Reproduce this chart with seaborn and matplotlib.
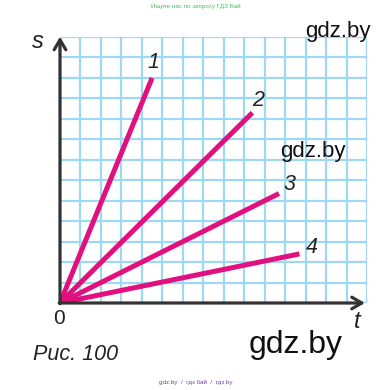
import matplotlib
matplotlib.use("Agg")
import matplotlib.pyplot as plt
import seaborn as sns
import pandas as pd

sns.set_theme(style="white")
plt.rcParams['font.family'] = ['Liberation Sans', 'DejaVu Sans']

# Data (grid units)
line_names = ["1", "2", "3", "4"]
t_end = [4.5, 9.4, 10.7, 11.7]
s_end = [11.0, 9.3, 5.35, 2.4]
x_cells = 15
y_cells = 13

rows = []
for n, t, s in zip(line_names, t_end, s_end):
    rows.append({"line": n, "t": 0.0, "s": 0.0})
    rows.append({"line": n, "t": t, "s": s})
df = pd.DataFrame(rows)

magenta = "#E2107F"
grid_c = "#9DDAF2"
axis_c = "#333333"

fig = plt.figure(figsize=(3.92, 3.90), dpi=100)
ax = fig.add_axes([60/392, (390-303)/390, 307/392, 266/390])

ax.set_xlim(0, x_cells)
ax.set_ylim(0, y_cells)
ax.set_xticks(range(0, x_cells + 1))
ax.set_yticks(range(0, y_cells + 1))
ax.set_xticklabels([])
ax.set_yticklabels([])
ax.tick_params(length=0)
ax.grid(True, color=grid_c, linewidth=1.6)
ax.set_axisbelow(True)
for sp in ax.spines.values():
    sp.set_visible(False)

sns.lineplot(data=df, x="t", y="s", units="line", estimator=None,
             color=magenta, linewidth=3.6, ax=ax, legend=False,
             solid_capstyle="butt")
ax.set_xlabel("")
ax.set_ylabel("")

# Axes with arrows
ax.annotate("", xy=(0, y_cells + 0.02), xytext=(0, -0.04),
            arrowprops=dict(arrowstyle="->,head_width=0.35,head_length=0.6",
                            color=axis_c, lw=2.3, shrinkA=0, shrinkB=0),
            annotation_clip=False)
ax.annotate("", xy=(x_cells - 0.1, 0), xytext=(-0.04, 0),
            arrowprops=dict(arrowstyle="->,head_width=0.35,head_length=0.6",
                            color=axis_c, lw=2.3, shrinkA=0, shrinkB=0),
            annotation_clip=False)

# Line labels
label_pos = [(153, 62), (258, 100), (290, 184), (312, 248)]
for n, (px, py) in zip(line_names, label_pos):
    fig.text(px/392, 1 - py/390, n, fontsize=15.5, style="italic",
             ha="center", va="center", color="#222222")

fig.text(38/392, 1 - 42/390, "s", fontsize=17, style="italic",
         ha="center", va="center", color="#222222")
fig.text(357/392, 1 - 322/390, "t", fontsize=17, style="italic",
         ha="center", va="center", color="#222222")
fig.text(59/392, 1 - 318/390, "0", fontsize=15,
         ha="center", va="center", color="#222222")
fig.text(33/392, 1 - 354/390, "Рис. 100", fontsize=15.5, style="italic",
         ha="left", va="center", color="#222222")

# Watermarks
fig.text(338/392, 1 - 31/390, "gdz.by", fontsize=16, ha="center", va="center", color="#111111")
fig.text(313/392, 1 - 152/390, "gdz.by", fontsize=16, ha="center", va="center", color="#111111")
fig.text(296/392, 1 - 345/390, "gdz.by", fontsize=23, ha="center", va="center", color="#111111")
fig.text(196/392, 1 - 6/390, "Ищите нас по запросу ГДЗ Бай", fontsize=4.5,
         ha="center", va="center", color="#3DCB4F")
fig.text(196/392, 1 - 382/390, "gdz.by  /  гдз бай  /  гдз by", fontsize=4.5,
         ha="center", va="center", color="#6B3FA8")

fig.savefig("out.png", dpi=100)
